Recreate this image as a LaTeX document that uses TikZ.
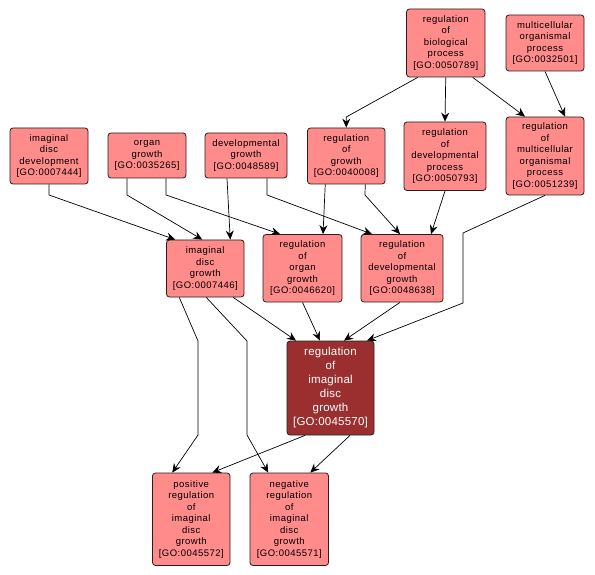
\documentclass[tikz,border=0pt]{standalone}
\usepackage{fontspec}
\usetikzlibrary{arrows.meta}
\newfontfamily\nfont{Liberation Sans}[LetterSpace=5]
\newfontfamily\mfont{Liberation Sans}[LetterSpace=2]
\definecolor{lightgo}{RGB}{255,139,139}
\definecolor{darkgo}{RGB}{155,47,47}
\definecolor{bordgo}{RGB}{40,30,30}
\tikzset{
  term/.style={draw=bordgo, line width=0.8pt, fill=lightgo, rounded corners=3pt,
    inner sep=0pt, align=center, font=\nfont\fontsize{9.5}{11.5}\selectfont, text=black},
  mainterm/.style={term, fill=darkgo, text=white, font=\mfont\fontsize{11.5}{14}\selectfont},
  edge/.style={draw=black, line width=0.7pt, -{Stealth[length=9pt,width=8pt,inset=3pt]}}
}
\begin{document}
\begin{tikzpicture}[x=1pt,y=-1pt]
\useasboundingbox (0,0) rectangle (595,575);
\fill[white] (0,0) rectangle (595,575);
% nodes
\node[term, minimum width=78pt, minimum height=56pt] (a7444) at (49,156) {imaginal\\disc\\development\\{[GO:0007444]}};
\node[term, minimum width=78pt, minimum height=45pt] (a35265) at (147,155.5) {organ\\growth\\{[GO:0035265]}};
\node[term, minimum width=82pt, minimum height=45pt] (a48589) at (246,155.5) {developmental\\growth\\{[GO:0048589]}};
\node[term, minimum width=78.5pt, minimum height=68pt] (a50789) at (445.75,43) {regulation\\of\\biological\\process\\{[GO:0050789]}};
\node[term, minimum width=78pt, minimum height=56pt] (a32501) at (545,43) {multicellular\\organismal\\process\\{[GO:0032501]}};
\node[term, minimum width=77.5pt, minimum height=56pt] (a40008) at (346.25,156) {regulation\\of\\growth\\{[GO:0040008]}};
\node[term, minimum width=82pt, minimum height=68.5pt] (a50793) at (445,156.25) {regulation\\of\\developmental\\process\\{[GO:0050793]}};
\node[term, minimum width=78pt, minimum height=78pt] (a51239) at (545,156) {regulation\\of\\multicellular\\organismal\\process\\{[GO:0051239]}};
\node[term, minimum width=77.5pt, minimum height=57pt] (a7446) at (205.25,268.5) {imaginal\\disc\\growth\\{[GO:0007446]}};
\node[term, minimum width=79pt, minimum height=67.5pt] (a46620) at (302.5,268.25) {regulation\\of\\organ\\growth\\{[GO:0046620]}};
\node[term, minimum width=82pt, minimum height=67.5pt] (a48638) at (402,268.25) {regulation\\of\\developmental\\growth\\{[GO:0048638]}};
\node[mainterm, minimum width=87pt, minimum height=94pt] (a45570) at (330.5,388) {regulation\\of\\imaginal\\disc\\growth\\{[GO:0045570]}};
\node[term, minimum width=77.5pt, minimum height=92.5pt] (a45572) at (191.25,519.25) {positive\\regulation\\of\\imaginal\\disc\\growth\\{[GO:0045572]}};
\node[term, minimum width=78.5pt, minimum height=92.5pt] (a45571) at (289.25,519.25) {negative\\regulation\\of\\imaginal\\disc\\growth\\{[GO:0045571]}};
% edges
\draw[edge] (a7444.south) -- (49,195) -- ([xshift=-30pt]a7446.north);
\draw[edge] ([xshift=-20pt]a35265.south) -- (127,195) -- ([xshift=-3pt]a7446.north);
\draw[edge] ([xshift=19pt]a35265.south) -- (166,195) -- ([xshift=-22.5pt]a46620.north);
\draw[edge] ([xshift=-19pt]a48589.south) -- ([xshift=25pt]a7446.north);
\draw[edge] ([xshift=21pt]a48589.south) -- (267,195) -- ([xshift=-30pt]a48638.north);
\draw[edge] ([xshift=-21pt]a40008.south) -- ([xshift=20.5pt]a46620.north);
\draw[edge] ([xshift=19pt]a40008.south) -- (365,195) -- ([xshift=-2pt]a48638.north);
\draw[edge] (a50793.south) -- ([xshift=29pt]a48638.north);
\draw[edge] ([xshift=-28pt]a50789.south) -- (346.25,117) -- (a40008.north);
\draw[edge] (a50789.south) -- (a50793.north);
\draw[edge] ([xshift=27pt]a50789.south) -- ([xshift=-20pt]a51239.north);
\draw[edge] (a32501.south) -- ([xshift=20pt]a51239.north);
\draw[edge] (a51239.south) -- (463,233) -- (463,303) -- ([xshift=36.5pt]a45570.north);
\draw[edge] ([xshift=28pt]a7446.south) -- ([xshift=-34.5pt]a45570.north);
\draw[edge] (a46620.south) -- ([xshift=-10.5pt]a45570.north);
\draw[edge] ([xshift=-2pt]a48638.south) -- ([xshift=13.5pt]a45570.north);
\draw[edge] ([xshift=-26pt]a7446.south) -- (198,341) -- (198,435) -- ([xshift=-19pt]a45572.north);
\draw[edge] ([xshift=1pt]a7446.south) -- (247,341) -- (247,435) -- ([xshift=-21pt]a45571.north);
\draw[edge] ([xshift=-25.5pt]a45570.south) -- ([xshift=21pt]a45572.north);
\draw[edge] ([xshift=19.5pt]a45570.south) -- ([xshift=21pt]a45571.north);
\end{tikzpicture}
\end{document}
